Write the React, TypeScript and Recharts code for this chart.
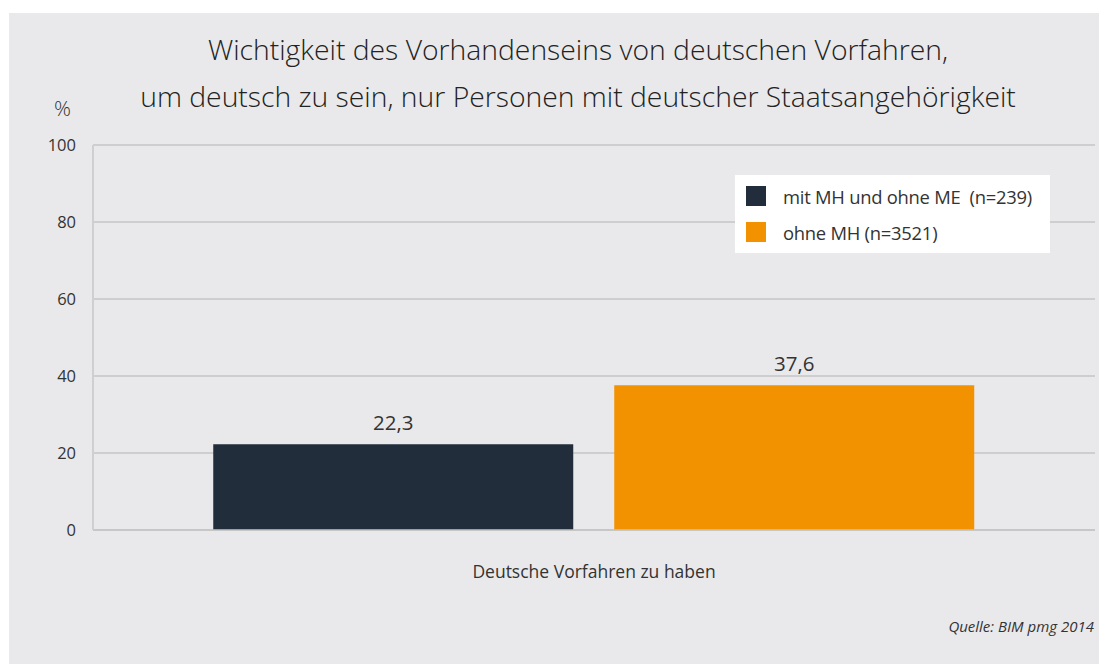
import React from "react";
import { BarChart, Bar, XAxis, YAxis, CartesianGrid, LabelList } from "recharts";

const categories = ["Deutsche Vorfahren zu haben"];
const mitMH = [22.3];
const ohneMH = [37.6];
const seriesNames = ["mit MH und ohne ME  (n=239)", "ohne MH (n=3521)"];
const seriesColors = ["#222d3c", "#f39200"];
const yTicks = [0, 20, 40, 60, 80, 100];

const data = categories.map((c, i) => ({ name: c, mitMH: mitMH[i], ohneMH: ohneMH[i] }));

const FONT = "'Open Sans', 'Noto Sans', sans-serif";
const W = 1098;
const H = 651;

const fmt = (v: unknown) => (typeof v === "number" ? v.toFixed(1).replace(".", ",") : String(v));

function LegendBox() {
  return (
    <div
      style={{
        position: "absolute",
        left: 726,
        top: 162,
        width: 315,
        height: 78,
        boxSizing: "border-box",
        background: "#fff",
        padding: "0 0 0 11px",
        fontFamily: FONT,
      }}
    >
      {seriesNames.map((n, i) => (
        <div key={n} style={{ display: "flex", alignItems: "center", height: 36, marginTop: i === 0 ? 3 : 0 }}>
          <span style={{ width: 20, height: 20, background: seriesColors[i], marginRight: 17, display: "inline-block" }} />
          <span style={{ fontSize: 18.4, color: "#333", whiteSpace: "pre", letterSpacing: -0.25 }}>{n}</span>
        </div>
      ))}
    </div>
  );
}

export default function App() {
  return (
    <div style={{ position: "relative", marginLeft: 1, marginTop: 5, width: W, height: H, background: "#e9e9eb", fontFamily: FONT }}>
      <BarChart
        width={W}
        height={H}
        data={data}
        margin={{ top: 132, right: 12, left: 0, bottom: 104 }}
        barCategoryGap="12%"
        barGap={41}
        style={{ position: "absolute", left: 0, top: 0 }}
      >
        <CartesianGrid vertical={false} stroke="#c4c4c6" strokeWidth={1.5} />
        <XAxis
          dataKey="name"
          axisLine={{ stroke: "#c4c4c6", strokeWidth: 1.5 }}
          tickLine={false}
          tick={{ fontSize: 17.5, fill: "#333", fontFamily: FONT, dy: 28 }}
        />
        <YAxis
          domain={[0, 100]}
          ticks={yTicks}
          width={84}
          axisLine={{ stroke: "#cfcfd1", strokeWidth: 2 }}
          tickLine={false}
          tickMargin={11}
          tick={{ fontSize: 16.5, fill: "#333", fontFamily: FONT }}
        />
        <Bar dataKey="mitMH" name={seriesNames[0]} fill={seriesColors[0]} isAnimationActive={false}>
          <LabelList dataKey="mitMH" position="top" offset={14} formatter={fmt} style={{ fontSize: 20.5, fill: "#333", fontFamily: FONT }} />
        </Bar>
        <Bar dataKey="ohneMH" name={seriesNames[1]} fill={seriesColors[1]} isAnimationActive={false}>
          <LabelList dataKey="ohneMH" position="top" offset={14} formatter={fmt} style={{ fontSize: 20.5, fill: "#333", fontFamily: FONT }} />
        </Bar>
      </BarChart>
      <div style={{ position: "absolute", left: 0, top: 13, width: 1138, textAlign: "center", fontSize: 28.3, fontWeight: 300, color: "#222", lineHeight: "47px" }}>
        Wichtigkeit des Vorhandenseins von deutschen Vorfahren,
        <br />
        um deutsch zu sein, nur Personen mit deutscher Staatsangehörigkeit
      </div>
      <div style={{ position: "absolute", left: 45, top: 81, fontSize: 21, color: "#333", fontWeight: 300 }}>%</div>
      <LegendBox />
      <div style={{ position: "absolute", right: 13, top: 603, fontSize: 15, fontStyle: "italic", color: "#333" }}>
        Quelle: BIM pmg 2014
      </div>
    </div>
  );
}
